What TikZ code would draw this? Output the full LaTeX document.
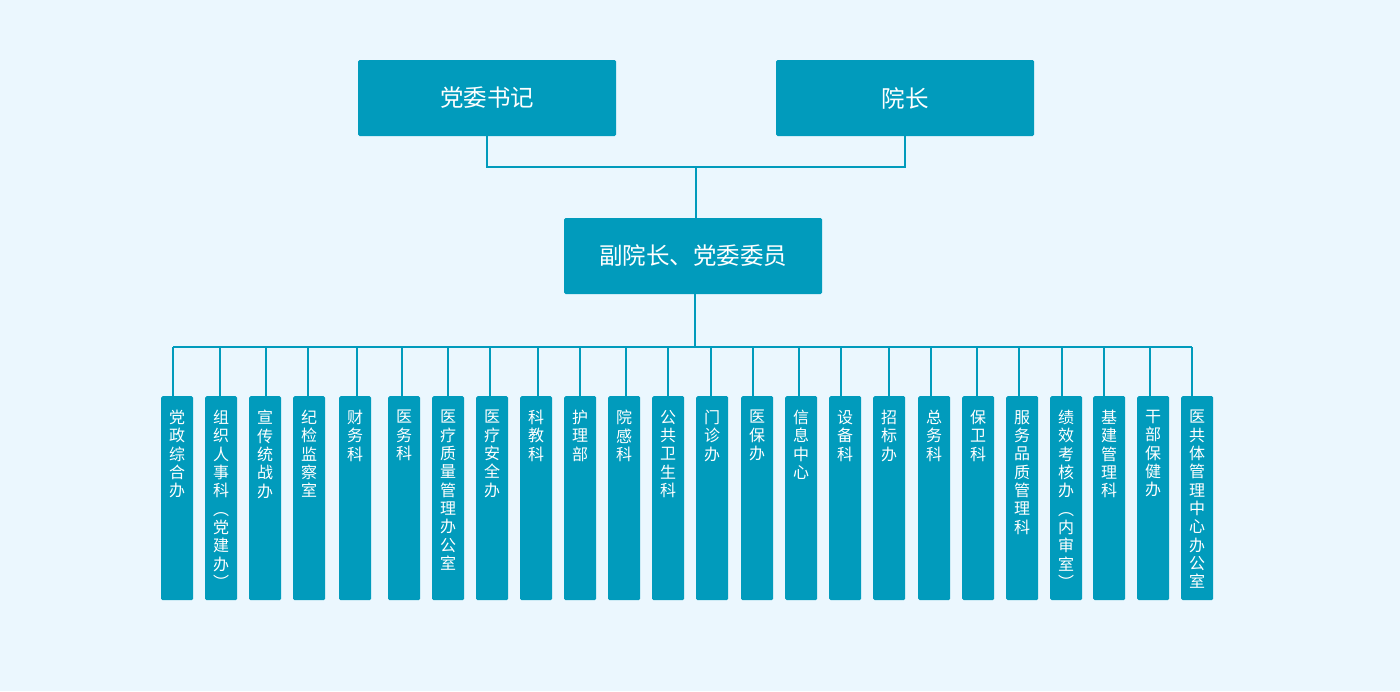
\documentclass[tikz,border=0pt]{standalone}
\usepackage{fontspec}
\setmainfont{Noto Sans CJK SC}
\usetikzlibrary{calc}
\definecolor{boxc}{HTML}{019BBC}
\definecolor{bgc}{HTML}{EBF7FE}
\begin{document}
\begin{tikzpicture}[x=1pt,y=-1pt,
 bigbox/.style={fill=boxc, rounded corners=1.5pt, minimum width=258pt, minimum height=76pt, inner sep=0pt, text=white, font=\fontsize{23.5}{28}\selectfont},
 colbox/.style={fill=boxc, rounded corners=1.5pt, minimum width=32pt, minimum height=204pt, inner sep=0pt, anchor=north west},
 vtext/.style={text=white, inner sep=0pt, align=center, anchor=north, font=\fontsize{16}{18.33}\selectfont},
 wire/.style={draw=boxc, line width=2pt}]
\fill[bgc] (0,0) rectangle (1400,691);
\useasboundingbox (0,0) rectangle (1400,691);
\node[bigbox] (sj) at (487,98) {党委书记};
\node[bigbox] (yz) at (905,98) {院长};
\node[bigbox] (fy) at (693,256) {副院长、党委委员};
\coordinate (j) at (696,167);
\coordinate (bus) at (695,347);
\draw[wire] (sj.south) |- (j) -| (yz.south);
\draw[wire] (j) -- (j |- fy.north);
\draw[wire] (fy.south -| bus) -- (bus);
\foreach \i/\lx/\tx/\txt in {
 1/161/173/{党\\政\\综\\合\\办},
 2/205/220/{组\\织\\人\\事\\科\\︵\\党\\建\\办\\︶},
 3/249/266/{宣\\传\\统\\战\\办},
 4/293/308/{纪\\检\\监\\察\\室},
 5/339/357/{财\\务\\科},
 6/388/402/{医\\务\\科},
 7/432/448/{医\\疗\\质\\量\\管\\理\\办\\公\\室},
 8/476/490/{医\\疗\\安\\全\\办},
 9/520/538/{科\\教\\科},
 10/564/580/{护\\理\\部},
 11/608/626/{院\\感\\科},
 12/652/668/{公\\共\\卫\\生\\科},
 13/696/711/{门\\诊\\办},
 14/741/753/{医\\保\\办},
 15/785/799/{信\\息\\中\\心},
 16/829/841/{设\\备\\科},
 17/873/889/{招\\标\\办},
 18/918/931/{总\\务\\科},
 19/962/977/{保\\卫\\科},
 20/1006/1019/{服\\务\\品\\质\\管\\理\\科},
 21/1050/1062/{绩\\效\\考\\核\\办\\︵\\内\\审\\室\\︶},
 22/1093/1104/{基\\建\\管\\理\\科},
 23/1137/1150/{干\\部\\保\\健\\办},
 24/1181/1192/{医\\共\\体\\管\\理\\中\\心\\办\\公\\室}}
{
 \node[colbox] (b\i) at (\lx,396) {};
 \node[vtext] (t\i) at ($(b\i.north)+(0,14)$) {\txt};
 \coordinate (p\i) at (\tx,347);
 \draw[wire] (p\i) -- (p\i |- b\i.north);
}
\draw[wire] (p1) -- (p24);
\end{tikzpicture}
\end{document}
